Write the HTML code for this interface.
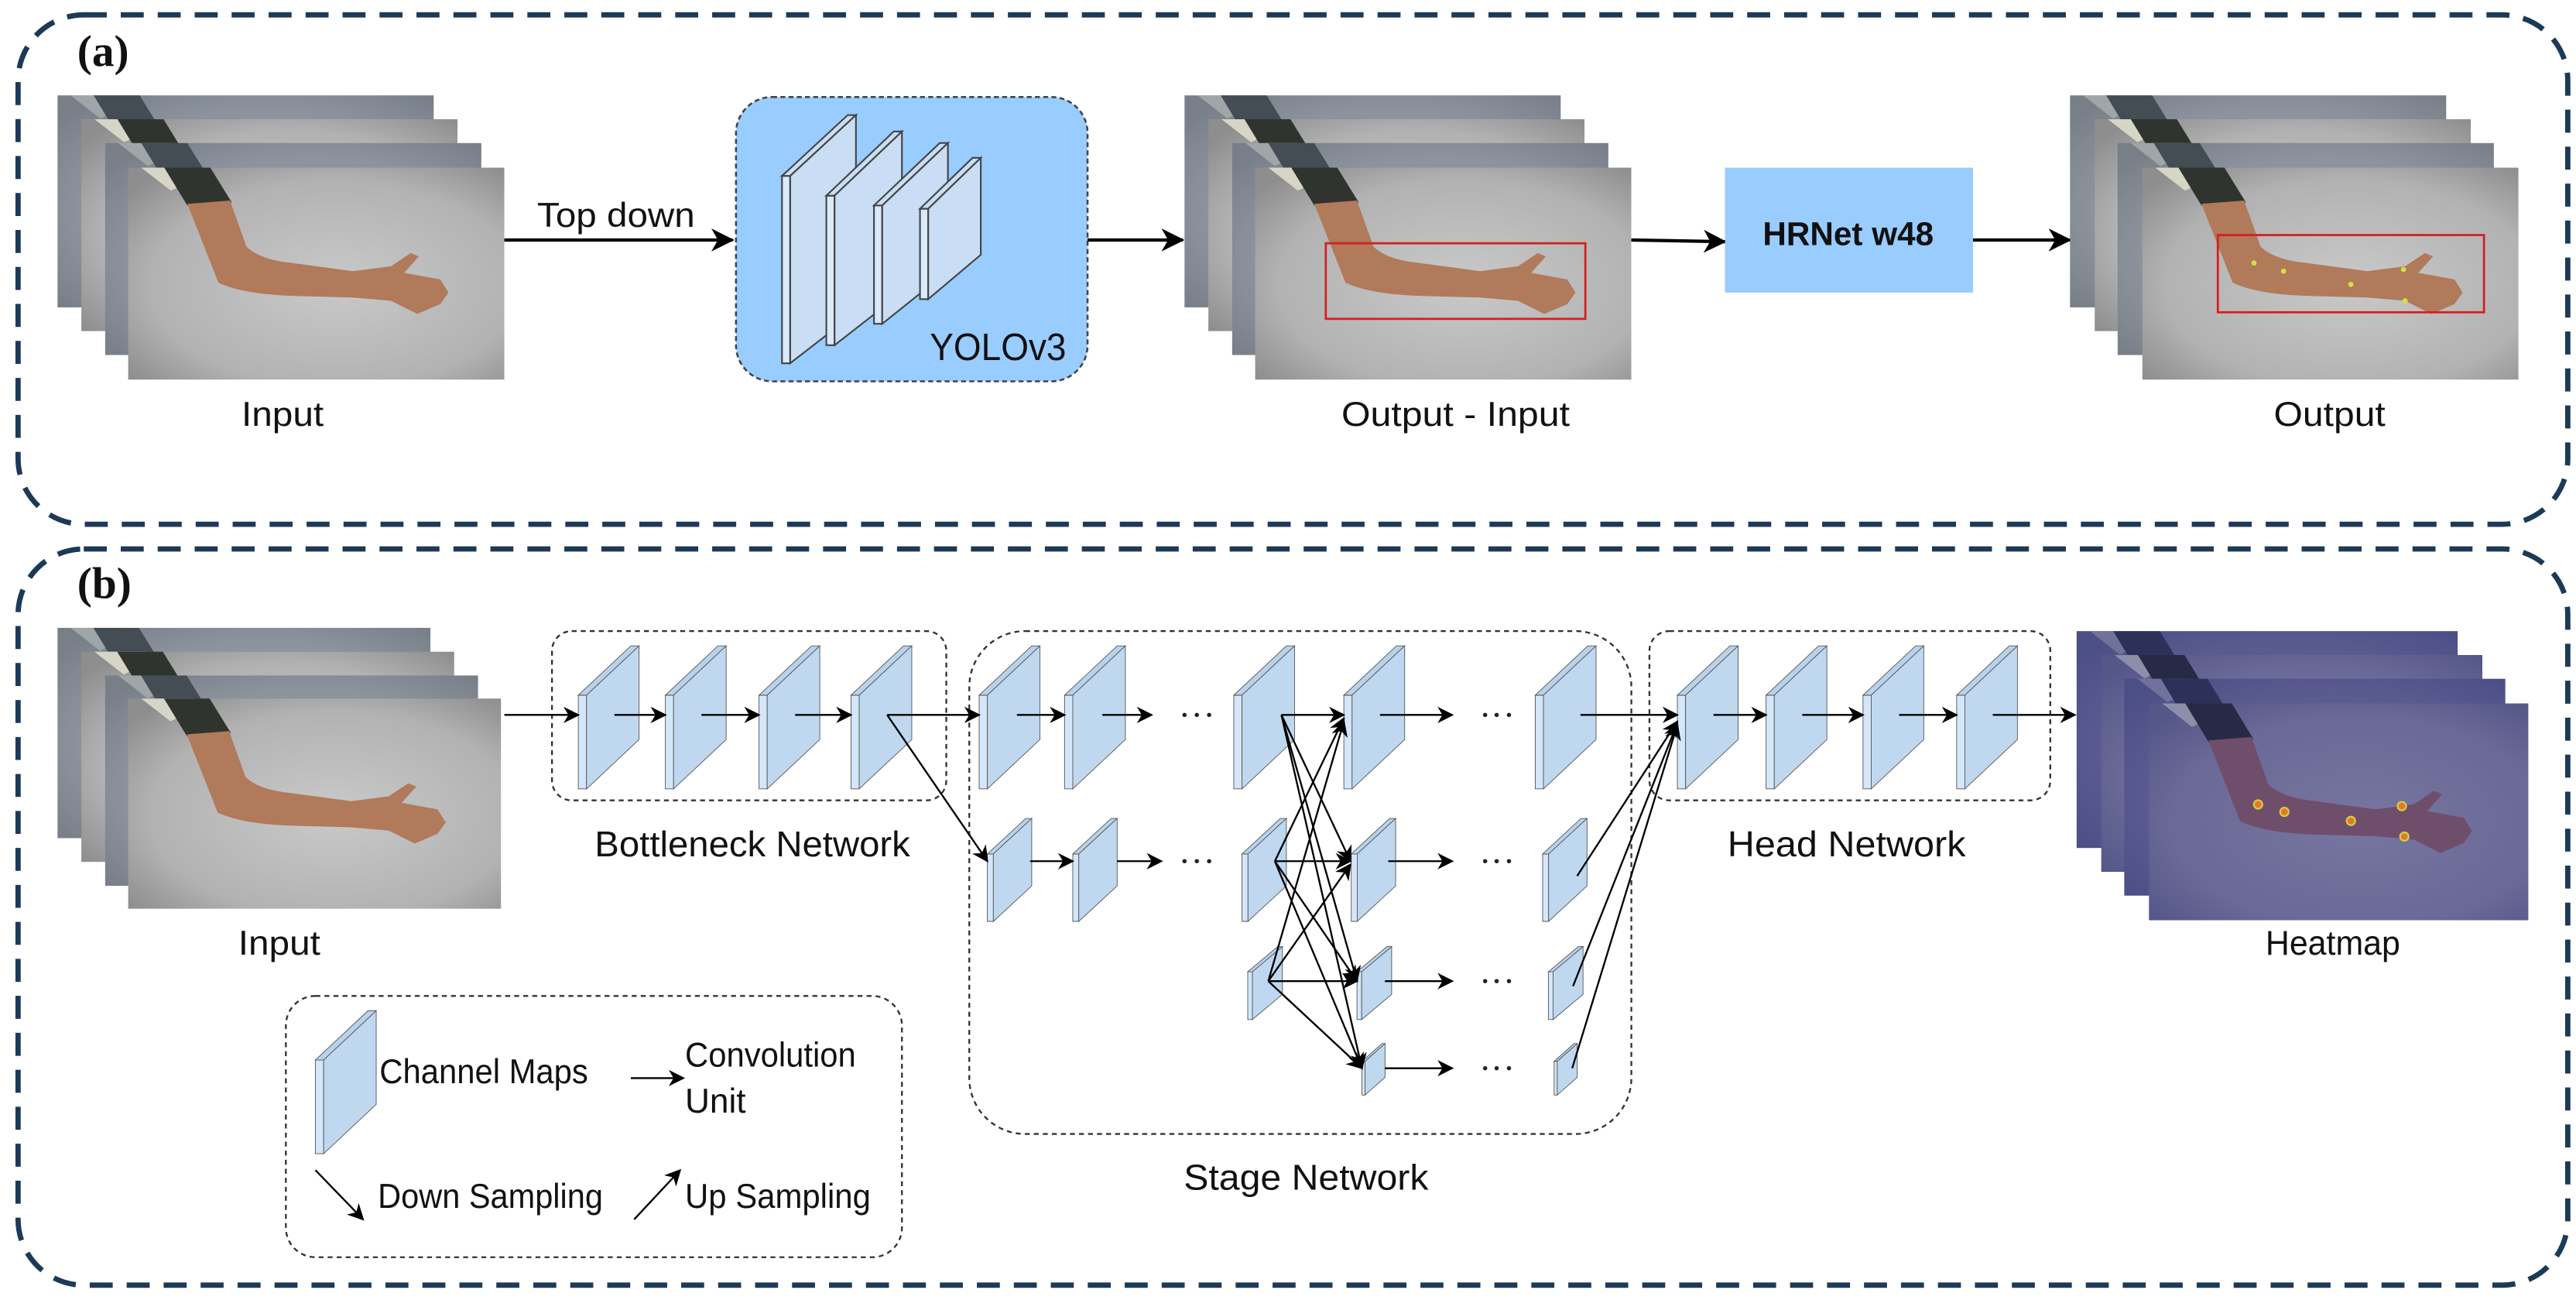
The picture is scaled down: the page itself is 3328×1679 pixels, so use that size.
<!DOCTYPE html>
<html><head><meta charset="utf-8"><style>
html,body{margin:0;padding:0;background:#fff;}
svg{display:block;}
text{font-family:"Liberation Sans",Arial,sans-serif;fill:#111;}
</style></head><body>
<svg width="3328" height="1679" viewBox="0 0 1568 791" xmlns="http://www.w3.org/2000/svg">
<defs>
  <radialGradient id="bg" cx="0.55" cy="0.55" r="0.7">
    <stop offset="0" stop-color="#c9c9c9"/><stop offset="0.7" stop-color="#b2b2b2"/><stop offset="1" stop-color="#8e8e8e"/>
  </radialGradient>
  <radialGradient id="hbg" cx="0.55" cy="0.55" r="0.7">
    <stop offset="0" stop-color="#77769f"/><stop offset="0.7" stop-color="#6a6997"/><stop offset="1" stop-color="#555789"/>
  </radialGradient>
  <symbol id="arm" viewBox="0 0 229 129" preserveAspectRatio="none">
    <rect width="229" height="129" fill="url(#bg)"/>
    <path d="M8,0 L40,0 Q36,10 26,14 Z" fill="#d7d5c6"/>
    <path d="M22,0 L50,0 L63,21 Q50,27 36,23 Z" fill="#2f342f"/>
    <path d="M36,22 L62,20 L72,48 Q80,56 100,58 L137,63 L160,60 L172,52 L177,54 L168,64 L190,68 L195,76 L190,83 L176,89 L160,81 L137,79 L100,78 Q70,77 55,70 Z" fill="#b07a5b"/>
  </symbol>
  <symbol id="harm" viewBox="0 0 229 129" preserveAspectRatio="none">
    <rect width="229" height="129" fill="url(#hbg)"/>
    <path d="M8,0 L40,0 Q36,10 26,14 Z" fill="#8e8eaa"/>
    <path d="M22,0 L50,0 L63,21 Q50,27 36,23 Z" fill="#262a45"/>
    <path d="M36,22 L62,20 L72,48 Q80,56 100,58 L137,63 L160,60 L172,52 L177,54 L168,64 L190,68 L195,76 L190,83 L176,89 L160,81 L137,79 L100,78 Q70,77 55,70 Z" fill="#6f4e6c"/>
  </symbol>
  <g id="slab">
    <polygon points="0,30 5,30 5,87 0,87" fill="#d4e7fa" stroke="#555" stroke-width="0.9" vector-effect="non-scaling-stroke"/>
    <polygon points="0,30 32,0 37,0 5,30" fill="#b9d2ec" stroke="#555" stroke-width="0.9" vector-effect="non-scaling-stroke"/>
    <polygon points="5,30 37,0 37,57 5,87" fill="#bfd8f0" stroke="#555" stroke-width="0.9" vector-effect="non-scaling-stroke"/>
  </g>
  <marker id="big" markerUnits="userSpaceOnUse" markerWidth="16" markerHeight="16" refX="13" refY="7" orient="auto">
    <path d="M0,0 L14,7 L0,14 L4,7 Z" fill="#000"/>
  </marker>
  <marker id="sm" markerUnits="userSpaceOnUse" markerWidth="12" markerHeight="12" refX="9" refY="5" orient="auto">
    <path d="M0,0 L10,5 L0,10 L3,5 Z" fill="#000"/>
  </marker>
</defs>

<rect x="11" y="9" width="1552" height="310" rx="40" fill="none" stroke="#1c3a58" stroke-width="3.2" stroke-dasharray="14 8.5"/>
<rect x="11" y="334" width="1552" height="448" rx="40" fill="none" stroke="#1c3a58" stroke-width="3.2" stroke-dasharray="14 8.5"/>
<text x="47" y="40" font-weight="bold" font-size="27" style="font-family:'Liberation Serif',serif">(a)</text>
<text x="47" y="364" font-weight="bold" font-size="27" style="font-family:'Liberation Serif',serif">(b)</text>

<!-- Panel (a) -->
<use href="#arm" x="35" y="58" width="229" height="129"/><rect x="35" y="58" width="229" height="129" fill="#5e6c80" opacity="0.45"/>
<use href="#arm" x="49.5" y="72.5" width="229" height="129"/>
<use href="#arm" x="64" y="87" width="229" height="129"/><rect x="64" y="87" width="229" height="129" fill="#5e6c80" opacity="0.45"/>
<use href="#arm" x="78" y="102" width="229" height="129"/>
<text x="172" y="259" font-size="21" text-anchor="middle" textLength="50" lengthAdjust="spacingAndGlyphs">Input</text>

<line x1="307" y1="146" x2="446" y2="146" stroke="#000" stroke-width="2" marker-end="url(#big)"/>
<text x="375" y="138" font-size="21" text-anchor="middle" textLength="96" lengthAdjust="spacingAndGlyphs">Top down</text>

<rect x="448" y="59" width="214" height="173" rx="22" fill="#99ccff" stroke="#444" stroke-width="1.2" stroke-dasharray="3 2"/>
<g stroke="#444" stroke-width="1" fill="#c9def4">
  <polygon points="476,107 481,107 481,221 476,221" fill="#dbeafb"/><polygon points="476,107 516,70 521,70 481,107"/><polygon points="481,107 521,70 521,190 481,221"/>
  <polygon points="503,119 508,119 508,210 503,210" fill="#dbeafb"/><polygon points="503,119 544,80 549,80 508,119"/><polygon points="508,119 549,80 549,178 508,210"/>
  <polygon points="532,125 537,125 537,197 532,197" fill="#dbeafb"/><polygon points="532,125 572,87 577,87 537,125"/><polygon points="537,125 577,87 577,165 537,197"/>
  <polygon points="560,127 565,127 565,182 560,182" fill="#dbeafb"/><polygon points="560,127 592,96 597,96 565,127"/><polygon points="565,127 597,96 597,155 565,182"/>
</g>
<text x="649" y="219" font-size="23" text-anchor="end" textLength="83" lengthAdjust="spacingAndGlyphs">YOLOv3</text>

<line x1="662" y1="146" x2="720" y2="146" stroke="#000" stroke-width="2" marker-end="url(#big)"/>

<use href="#arm" x="721" y="58" width="229" height="129"/><rect x="721" y="58" width="229" height="129" fill="#5e6c80" opacity="0.45"/>
<use href="#arm" x="735.5" y="72.5" width="229" height="129"/>
<use href="#arm" x="750" y="87" width="229" height="129"/><rect x="750" y="87" width="229" height="129" fill="#5e6c80" opacity="0.45"/>
<use href="#arm" x="764" y="102" width="229" height="129"/>
<rect x="807" y="148" width="158" height="46" fill="none" stroke="#d42020" stroke-width="1.3"/>
<text x="886" y="259" font-size="21" text-anchor="middle" textLength="139" lengthAdjust="spacingAndGlyphs">Output - Input</text>

<line x1="993" y1="146" x2="1050" y2="147" stroke="#000" stroke-width="2" marker-end="url(#big)"/>
<rect x="1050" y="102" width="151" height="76" fill="#99ccff"/>
<text x="1125" y="149" font-size="20" font-weight="bold" text-anchor="middle" textLength="104" lengthAdjust="spacingAndGlyphs">HRNet w48</text>
<line x1="1201" y1="146" x2="1260" y2="146" stroke="#000" stroke-width="2" marker-end="url(#big)"/>

<use href="#arm" x="1260" y="58" width="229" height="129"/><rect x="1260" y="58" width="229" height="129" fill="#5e6c80" opacity="0.45"/>
<use href="#arm" x="1275" y="72.5" width="229" height="129"/>
<use href="#arm" x="1289" y="87" width="229" height="129"/><rect x="1289" y="87" width="229" height="129" fill="#5e6c80" opacity="0.45"/>
<use href="#arm" x="1304" y="102" width="229" height="129"/>
<rect x="1350" y="143" width="162" height="47" fill="none" stroke="#d42020" stroke-width="1.3"/>
<g fill="#c8e63c"><circle cx="1372" cy="160" r="1.6"/><circle cx="1390" cy="165" r="1.6"/><circle cx="1431" cy="173" r="1.6"/><circle cx="1463" cy="164" r="1.6"/><circle cx="1464" cy="183" r="1.6"/></g>
<text x="1418" y="259" font-size="21" text-anchor="middle" textLength="68" lengthAdjust="spacingAndGlyphs">Output</text>

<!-- Panel (b) -->
<use href="#arm" x="35" y="382" width="227" height="128"/><rect x="35" y="382" width="227" height="128" fill="#5e6c80" opacity="0.45"/>
<use href="#arm" x="49.5" y="396.5" width="227" height="128"/>
<use href="#arm" x="64" y="411" width="227" height="128"/><rect x="64" y="411" width="227" height="128" fill="#5e6c80" opacity="0.45"/>
<use href="#arm" x="78" y="425" width="227" height="128"/>
<text x="170" y="581" font-size="21" text-anchor="middle" textLength="50" lengthAdjust="spacingAndGlyphs">Input</text>

<use href="#harm" x="1264" y="384" width="232" height="132"/><rect x="1264" y="384" width="232" height="132" fill="#3c3f80" opacity="0.35"/>
<use href="#harm" x="1279" y="398.5" width="232" height="132"/>
<use href="#harm" x="1293" y="413" width="232" height="132"/><rect x="1293" y="413" width="232" height="132" fill="#3c3f80" opacity="0.35"/>
<use href="#harm" x="1308" y="428" width="231" height="132"/>
<g fill="#e07a30" stroke="#d8d040" stroke-width="1"><circle cx="1374.5" cy="489.5" r="2.6"/><circle cx="1390.5" cy="494" r="2.6"/><circle cx="1431" cy="499.5" r="2.6"/><circle cx="1462" cy="490.5" r="2.6"/><circle cx="1463.5" cy="509" r="2.6"/></g>
<text x="1420" y="581" font-size="21" text-anchor="middle" textLength="82" lengthAdjust="spacingAndGlyphs">Heatmap</text>

<g fill="none" stroke="#333" stroke-width="1.1" stroke-dasharray="3 2.5">
  <rect x="336" y="384" width="240" height="103" rx="12"/>
  <rect x="590" y="384" width="403" height="306" rx="34"/>
  <rect x="1004" y="384" width="244" height="103" rx="12"/>
  <rect x="174" y="606" width="375" height="159" rx="18"/>
</g>
<text x="458" y="521" font-size="22" text-anchor="middle" textLength="192" lengthAdjust="spacingAndGlyphs">Bottleneck Network</text>
<text x="795" y="724" font-size="22" text-anchor="middle" textLength="149" lengthAdjust="spacingAndGlyphs">Stage Network</text>
<text x="1124" y="521" font-size="22" text-anchor="middle" textLength="145" lengthAdjust="spacingAndGlyphs">Head Network</text>

<use href="#slab" x="352" y="393"/><use href="#slab" x="405" y="393"/><use href="#slab" x="462" y="393"/><use href="#slab" x="518" y="393"/>
<use href="#slab" x="596" y="393"/><use href="#slab" x="648" y="393"/><use href="#slab" x="751" y="393"/><use href="#slab" x="818" y="393"/><use href="#slab" x="934.5" y="393"/>
<use href="#slab" x="1021" y="393"/><use href="#slab" x="1075" y="393"/><use href="#slab" x="1134" y="393"/><use href="#slab" x="1191" y="393"/>
<g transform="translate(601,498) scale(0.73,0.72)"><use href="#slab"/></g>
<g transform="translate(653,498) scale(0.73,0.72)"><use href="#slab"/></g>
<g transform="translate(756,498) scale(0.73,0.72)"><use href="#slab"/></g>
<g transform="translate(822.5,498) scale(0.73,0.72)"><use href="#slab"/></g>
<g transform="translate(939,498) scale(0.73,0.72)"><use href="#slab"/></g>
<g transform="translate(759.5,576) scale(0.57,0.51)"><use href="#slab"/></g>
<g transform="translate(826,576) scale(0.57,0.51)"><use href="#slab"/></g>
<g transform="translate(942.5,576) scale(0.57,0.51)"><use href="#slab"/></g>
<g transform="translate(829,635) scale(0.38,0.36)"><use href="#slab"/></g>
<g transform="translate(946,635) scale(0.38,0.36)"><use href="#slab"/></g>
<use href="#slab" x="192" y="615"/>

<g stroke="#000" stroke-width="1.1" fill="none" marker-end="url(#sm)">
  <line x1="307" y1="435" x2="352" y2="435"/>
  <line x1="374" y1="435" x2="405" y2="435"/>
  <line x1="427" y1="435" x2="462" y2="435"/>
  <line x1="484" y1="435" x2="518" y2="435"/>
  <line x1="540" y1="435" x2="596" y2="435"/>
  <line x1="540" y1="435" x2="601" y2="524"/>
  <line x1="619" y1="435" x2="648" y2="435"/>
  <line x1="671" y1="435" x2="701" y2="435"/>
  <line x1="627" y1="524" x2="653" y2="524"/>
  <line x1="680" y1="524" x2="707" y2="524"/>
  <line x1="780" y1="435" x2="818" y2="435"/>
  <line x1="780" y1="435" x2="822" y2="524"/>
  <line x1="780" y1="435" x2="826" y2="597"/>
  <line x1="780" y1="435" x2="829" y2="650"/>
  <line x1="776" y1="524" x2="818" y2="437"/>
  <line x1="776" y1="524" x2="822" y2="524"/>
  <line x1="776" y1="524" x2="826" y2="597"/>
  <line x1="776" y1="524" x2="829" y2="650"/>
  <line x1="772" y1="597" x2="818" y2="439"/>
  <line x1="772" y1="597" x2="822" y2="526"/>
  <line x1="772" y1="597" x2="826" y2="597"/>
  <line x1="772" y1="597" x2="829" y2="650"/>
  <line x1="840" y1="435" x2="884" y2="435"/>
  <line x1="845" y1="524" x2="884" y2="524"/>
  <line x1="843" y1="597" x2="884" y2="597"/>
  <line x1="843" y1="650" x2="884" y2="650"/>
  <line x1="962" y1="435" x2="1021" y2="435"/>
  <line x1="960" y1="533" x2="1021" y2="439"/>
  <line x1="957.5" y1="600" x2="1021" y2="440"/>
  <line x1="957" y1="650" x2="1021" y2="441"/>
  <line x1="1043" y1="435" x2="1075" y2="435"/>
  <line x1="1097" y1="435" x2="1134" y2="435"/>
  <line x1="1156" y1="435" x2="1191" y2="435"/>
  <line x1="1213" y1="435" x2="1263" y2="435"/>
  <line x1="384" y1="656" x2="416" y2="656"/>
  <line x1="192" y1="712" x2="221" y2="742"/>
  <line x1="386" y1="742" x2="414" y2="712"/>
</g>
<g fill="#222">
  <circle cx="721" cy="435" r="1.3"/><circle cx="728.5" cy="435" r="1.3"/><circle cx="736" cy="435" r="1.3"/>
  <circle cx="721" cy="524" r="1.3"/><circle cx="728.5" cy="524" r="1.3"/><circle cx="736" cy="524" r="1.3"/>
  <circle cx="904" cy="435" r="1.3"/><circle cx="911" cy="435" r="1.3"/><circle cx="918.5" cy="435" r="1.3"/>
  <circle cx="904" cy="524" r="1.3"/><circle cx="911" cy="524" r="1.3"/><circle cx="918.5" cy="524" r="1.3"/>
  <circle cx="904" cy="597" r="1.3"/><circle cx="911" cy="597" r="1.3"/><circle cx="918.5" cy="597" r="1.3"/>
  <circle cx="904" cy="650" r="1.3"/><circle cx="911" cy="650" r="1.3"/><circle cx="918.5" cy="650" r="1.3"/>
</g>

<text x="231" y="659" font-size="21" textLength="127" lengthAdjust="spacingAndGlyphs">Channel Maps</text>
<text x="417" y="649" font-size="21" textLength="104" lengthAdjust="spacingAndGlyphs">Convolution</text>
<text x="417" y="677" font-size="21" textLength="37" lengthAdjust="spacingAndGlyphs">Unit</text>
<text x="230" y="735" font-size="21" textLength="137" lengthAdjust="spacingAndGlyphs">Down Sampling</text>
<text x="417" y="735" font-size="21" textLength="113" lengthAdjust="spacingAndGlyphs">Up Sampling</text>
</svg>
</body></html>
